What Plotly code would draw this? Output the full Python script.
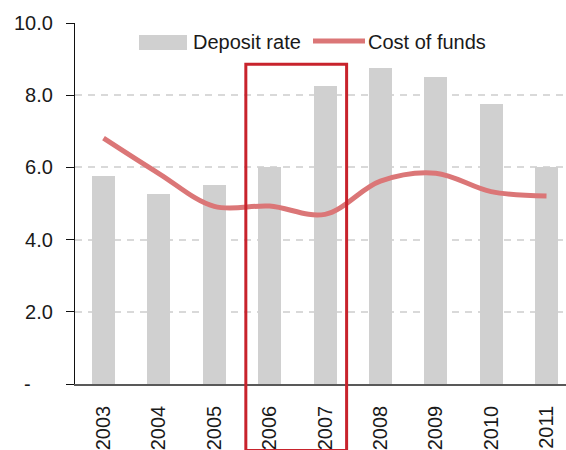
import plotly.graph_objects as go

# Annual figures, 2003-2011 (%)
years = ["2003", "2004", "2005", "2006", "2007", "2008", "2009", "2010", "2011"]
deposit_rate = [5.75, 5.25, 5.5, 6.0, 8.25, 8.75, 8.5, 7.75, 6.0]
cost_of_funds = [6.81, 5.83, 4.92, 4.93, 4.70, 5.62, 5.84, 5.33, 5.21]

y_tick_vals = [0, 2, 4, 6, 8, 10]
y_tick_text = ["-\u00a0\u00a0\u00a0\u00a0", "2.0", "4.0", "6.0", "8.0", "10.0"]

# highlighted period (category positions) and its vertical extent (paper units)
highlight_x = [2.57, 4.39]
highlight_y = [-0.184, 0.886]

FONT = "Liberation Sans"
TEXT = "#1a1a1a"
BAR_GREY = "#d0d0d0"
LINE_RED = "#db7677"
BOX_RED = "#c8232c"

W, H = 566, 450
ML, MR, MT, MB = 75, 0, 23, 66
PW, PH = W - ML - MR, H - MT - MB


def px_to_paper(px, py):
    return (px - ML) / PW, (H - MB - py) / PH


fig = go.Figure()
fig.add_bar(
    x=years, y=deposit_rate, name="Deposit rate", width=0.415,
    marker=dict(color=BAR_GREY, line=dict(width=0)), showlegend=False,
)
fig.add_scatter(
    x=years, y=cost_of_funds, name="Cost of funds", mode="lines",
    line=dict(shape="spline", smoothing=1.0, color=LINE_RED, width=5),
    showlegend=False,
)

# highlight box around 2006-2007
fig.add_shape(
    type="rect", xref="x", yref="paper",
    x0=highlight_x[0], x1=highlight_x[1], y0=highlight_y[0], y1=highlight_y[1],
    line=dict(color=BOX_RED, width=3), fillcolor="rgba(0,0,0,0)", layer="above",
)

# legend: grey swatch + red line swatch with labels
bx0, by0 = px_to_paper(139, 50)
bx1, by1 = px_to_paper(187, 35)
fig.add_shape(type="rect", xref="paper", yref="paper", x0=bx0, x1=bx1, y0=by0, y1=by1,
              line=dict(width=0), fillcolor=BAR_GREY)
lx0, ly = px_to_paper(313, 41)
lx1, _ = px_to_paper(365, 41)
fig.add_shape(type="line", xref="paper", yref="paper", x0=lx0, x1=lx1, y0=ly, y1=ly,
              line=dict(color=LINE_RED, width=5))
for label, px in [("Deposit rate", 192), ("Cost of funds", 367)]:
    ax, ay = px_to_paper(px, 42)
    fig.add_annotation(text=label, xref="paper", yref="paper", x=ax, y=ay,
                       xanchor="left", yanchor="middle", showarrow=False, borderpad=0,
                       font=dict(family=FONT, size=20, color=TEXT))

fig.update_layout(
    width=W, height=H,
    margin=dict(l=ML, r=MR, t=MT, b=MB, pad=0),
    paper_bgcolor="white", plot_bgcolor="white",
    font=dict(family=FONT, size=20, color=TEXT),
    bargap=0,
)
fig.update_xaxes(
    type="category", range=[-0.515, 8.352],
    showline=True, linecolor="#595959", linewidth=1.5,
    showgrid=False, zeroline=False, ticks="",
    tickangle=-90, ticklabelstandoff=12,
    tickfont=dict(family=FONT, size=20, color=TEXT),
)
fig.update_yaxes(
    range=[0, 10], tickvals=y_tick_vals, ticktext=y_tick_text,
    showline=True, linecolor="#111111", linewidth=1.2,
    ticks="outside", ticklen=8, tickcolor="#111111", tickwidth=1.2,
    showgrid=True, gridcolor="#d9d9d9", gridwidth=1.5, griddash="7px,6px",
    zeroline=False, ticklabelstandoff=9,
    tickfont=dict(family=FONT, size=20, color=TEXT),
)

fig.write_html("out.html")
